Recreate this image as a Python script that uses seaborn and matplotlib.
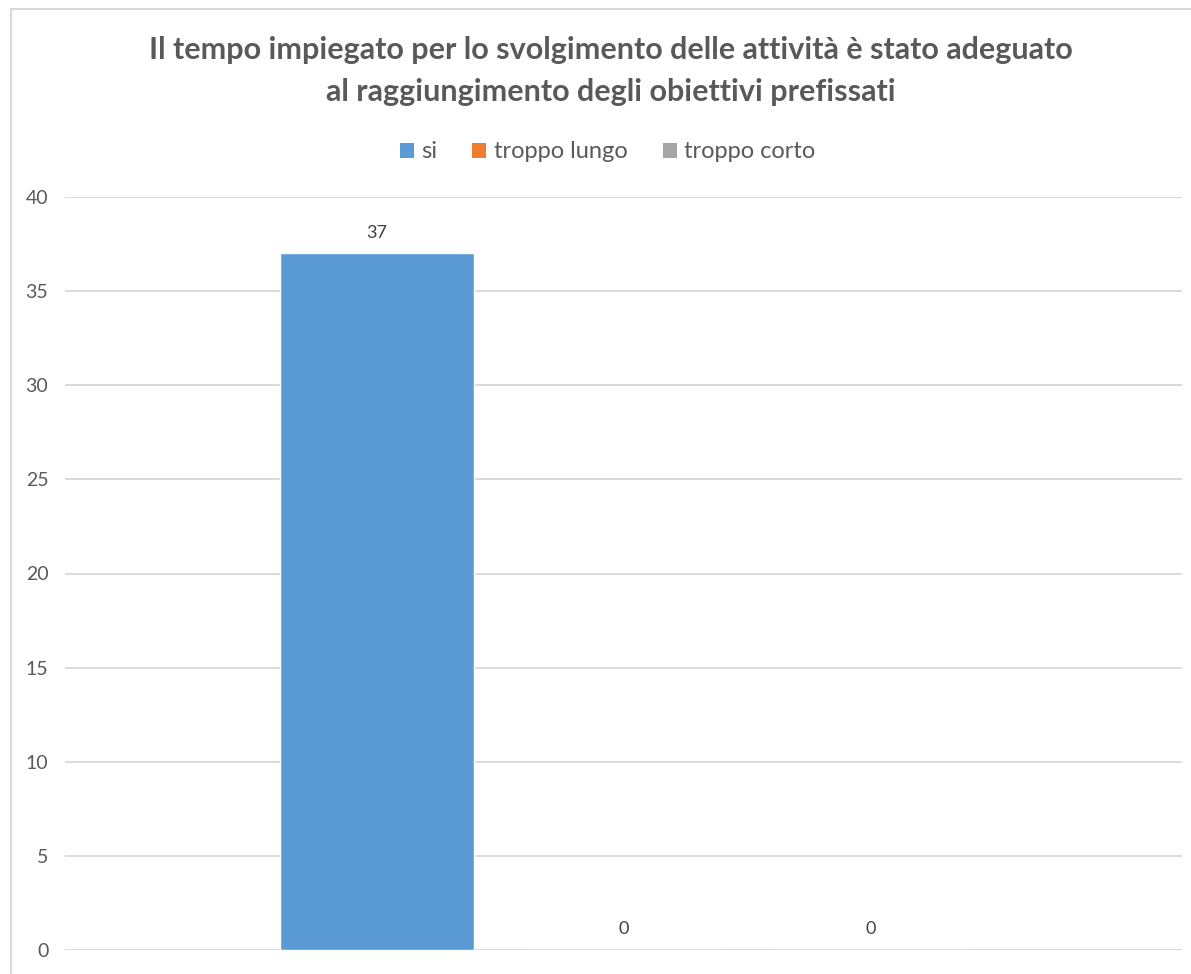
import matplotlib
matplotlib.use("Agg")
import matplotlib.pyplot as plt
import seaborn as sns
import pandas as pd
from matplotlib.patches import Patch, Rectangle

series = ["si", "troppo lungo", "troppo corto"]
values = [37, 0, 0]
colors = ["#5b9bd5", "#ed7d31", "#a5a5a5"]
yticks = [0, 5, 10, 15, 20, 25, 30, 35, 40]
title = ("Il tempo impiegato per lo svolgimento delle attività è stato adeguato\n"
         "al raggiungimento degli obiettivi prefissati")

df = pd.DataFrame({"serie": series, "valore": values})

sns.set_theme(style="white")
plt.rcParams["font.family"] = ["Lato", "DejaVu Sans"]

fig = plt.figure(figsize=(11.91, 9.74), dpi=100)
ax = fig.add_axes([65/1191, 1-950/974, (1182-65)/1191, (950-197)/974])

sns.barplot(data=df, x="serie", y="valore", hue="serie", palette=colors,
            width=0.785, legend=False, ax=ax, saturation=1)

ax.set_ylim(0, 40)
ax.set_xlim(-1.263, 3.26)
ax.set_yticks(yticks)
ax.set_yticklabels([str(t) for t in yticks], color="#595959", fontsize=14)
ax.tick_params(axis="y", length=0, pad=12)
ax.set_xticks([])
ax.set_xlabel("")
ax.set_ylabel("")
for s in ax.spines.values():
    s.set_visible(False)
ax.yaxis.grid(True, color="#d9d9d9", linewidth=1.4)
ax.set_axisbelow(True)

for c in ax.containers:
    ax.bar_label(c, fmt="%d", padding=9, color="#404040", fontsize=13)

fig.text(0.513, 1-71/974, title, ha="center", va="center", fontsize=22,
         fontweight="bold", color="#595959", linespacing=1.62)

handles = [Patch(facecolor=c, edgecolor="none") for c in colors]
fig.legend(handles, series, loc="center", bbox_to_anchor=(0.51, 1-152/974),
           ncol=3, frameon=False, fontsize=17, handlelength=0.6, handleheight=0.6,
           handletextpad=0.3, columnspacing=1.5, labelcolor="#595959")

fig.patches.append(Rectangle((10.5/1191, -0.05), 1.1, (974-9)/974 + 0.05,
                             transform=fig.transFigure, fill=False,
                             edgecolor="#d9d9d9", linewidth=1.5))

fig.savefig("out.png", dpi=100, facecolor="white")
